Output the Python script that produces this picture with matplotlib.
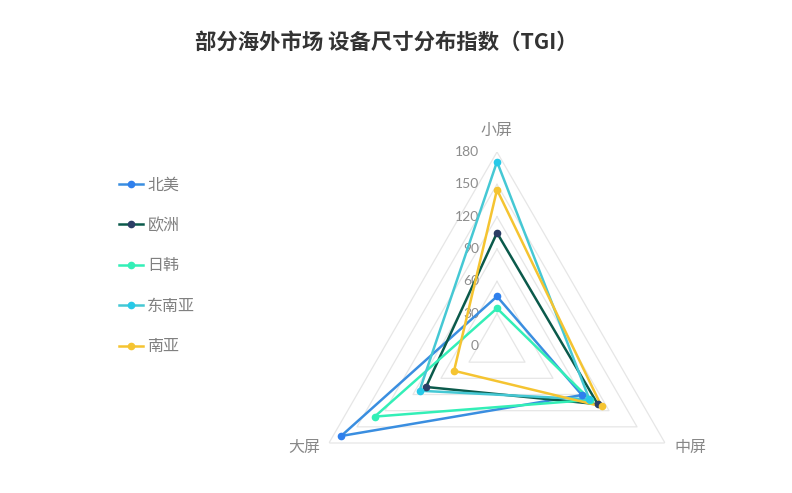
import numpy as np
import matplotlib
matplotlib.use("Agg")
import matplotlib.pyplot as plt
from matplotlib.lines import Line2D

plt.rcParams['font.family'] = ['Noto Sans CJK SC', 'DejaVu Sans']

# data
axes_labels = ['小屏', '中屏', '大屏']
series = ['北美', '欧洲', '日韩', '东南亚', '南亚']
na = [46, 91, 167]
eu = [105, 108, 76]
jk = [35, 100, 131]
sea = [171, 99, 83]
sa = [145, 112, 46]
values = [na, eu, jk, sea, sa]
r_ticks = [0, 30, 60, 90, 120, 150, 180]

line_colors = ['#3a8ee0', '#0b5a4b', '#33efb7', '#45c8d4', '#f5c431']
marker_colors = ['#2f80ed', '#2c3e66', '#33efb7', '#26c9e8', '#f5c431']

fig = plt.figure(figsize=(7.92, 4.93), dpi=100)
W, H = 792, 493
cx, cy, R = 497, 346, 194
ax = fig.add_axes([(cx - R) / W, (H - cy - R) / H, 2 * R / W, 2 * R / H],
                  projection='polar')
ax.set_theta_offset(np.pi / 2)
ax.set_theta_direction(-1)
ax.set_ylim(0, 180)
ax.grid(False)
ax.spines['polar'].set_visible(False)
ax.set_xticks([])
ax.set_yticks([])
ax.patch.set_alpha(0)

theta = np.linspace(0, 2 * np.pi, 3, endpoint=False)
theta_c = np.append(theta, theta[0])

# triangular grid
for lv in r_ticks[1:]:
    ax.plot(theta_c, [lv] * 4, color='#e6e6e6', lw=0.9, zorder=1)

# radial tick labels
for lv in r_ticks:
    ax.annotate(str(lv), xy=(0, lv), xytext=(-18, 0), textcoords='offset pixels',
                ha='right', va='center', fontsize=10, color='#8c8c8c',
                family=['Lato', 'DejaVu Sans'], zorder=2)

# axis labels
offsets = [(0, 22), (25, -4), (-25, -4)]
for t, lab, off in zip(theta, axes_labels, offsets):
    ax.annotate(lab, xy=(t, 180), xytext=off, textcoords='offset pixels',
                ha='center', va='center', fontsize=11.5, color='#888888')

for name, vals, lc, mc in zip(series, values, line_colors, marker_colors):
    v = vals + [vals[0]]
    ax.plot(theta_c, v, color=lc, lw=1.8, zorder=3)
    ax.plot(theta, vals, 'o', color=mc, ms=4.5, zorder=4)

handles = [Line2D([0], [0], color=lc, lw=1.8, marker='o', ms=4.5,
                  markerfacecolor=mc, markeredgecolor=mc)
           for lc, mc in zip(line_colors, marker_colors)]
leg = fig.legend(handles, series, loc='upper left', bbox_to_anchor=(105 / W, 1 - 162 / H),
                 frameon=False, fontsize=11.5, handlelength=1.45, handletextpad=0.3,
                 labelspacing=1.47)
for t in leg.get_texts():
    t.set_color('#808080')

fig.text(386 / W, 1 - 42 / H, '部分海外市场 设备尺寸分布指数（TGI）', ha='center', va='center',
         fontsize=15.4, fontweight='bold', color='#333333')

fig.savefig('out.png', dpi=100)
